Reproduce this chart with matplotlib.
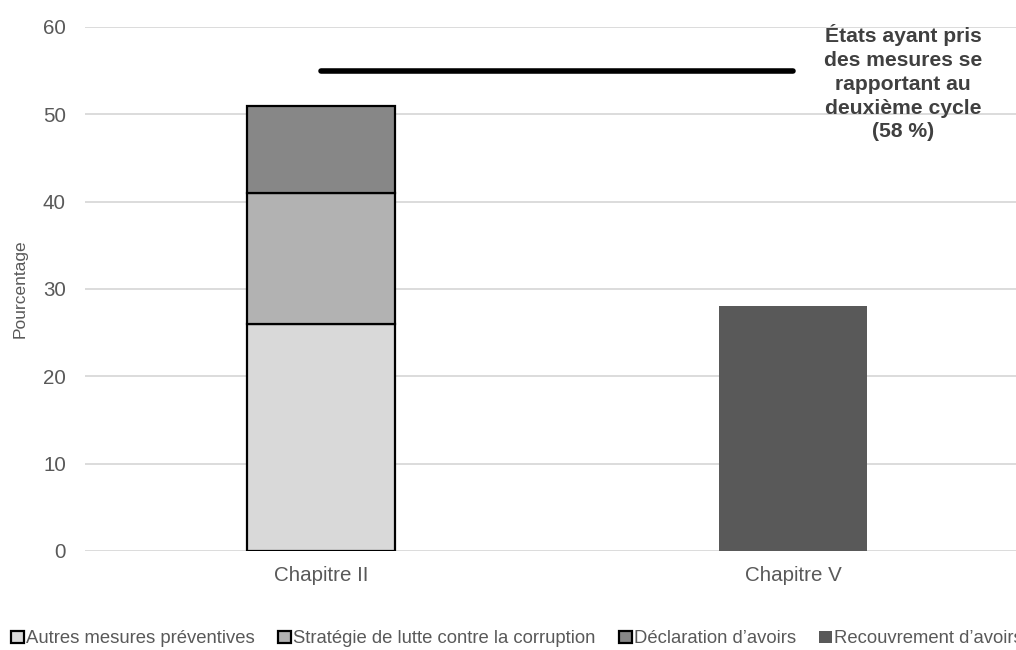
import matplotlib.pyplot as plt
import numpy as np

plt.rcParams['font.family'] = ['Liberation Sans', 'DejaVu Sans']

chapitres = ['Chapitre II', 'Chapitre V']
series = ['Autres mesures préventives',
          'Stratégie de lutte contre la corruption',
          'Déclaration d\u2019avoirs',
          'Recouvrement d\u2019avoirs']
autres = [26, 0]
strategie = [15, 0]
declaration = [10, 0]
recouvrement = [0, 28]
deuxieme_cycle = 55
note = 'États ayant pris\ndes mesures se\nrapportant au\ndeuxième cycle\n(58 %)'

couleurs = ['#D9D9D9', '#B2B2B2', '#878787', '#595959']
bords = ['black', 'black', 'black', 'none']

fig = plt.figure(figsize=(10.16, 6.5), dpi=100)
ax = fig.add_axes([85 / 1016, 99 / 650, 944 / 1016, 524 / 650])

x = np.arange(len(chapitres))
w = 0.314
bas = np.zeros(len(chapitres))
for nom, vals, c, b in zip(series, [autres, strategie, declaration, recouvrement], couleurs, bords):
    vals = np.array(vals, dtype=float)
    lw = 1.6 if b != 'none' else 0
    # hide zero-height segments so they don't leave an outline
    ax.bar(x[vals > 0], vals[vals > 0], w, bottom=bas[vals > 0], color=c,
           edgecolor=b, linewidth=lw, zorder=3)
    ax.bar([np.nan], [np.nan], w, color=c, edgecolor=b, linewidth=lw, label=nom)
    bas += vals

ax.plot([x[0], x[1]], [deuxieme_cycle, deuxieme_cycle], color='black', lw=4,
        solid_capstyle='round', zorder=4)
ax.text(1.233, 53.6, note, ha='center', va='center', multialignment='center',
        fontsize=15.2, fontweight='bold', color='#404040', linespacing=1.32, zorder=5)

ax.set_xlim(-0.5, 1.5)
ax.set_ylim(0, 60)
ax.set_yticks(range(0, 61, 10))
ax.set_xticks(x)
ax.set_xticklabels(chapitres)
ax.tick_params(axis='both', length=0, labelsize=14.8, colors='#595959')
ax.tick_params(axis='y', pad=13.7)
ax.tick_params(axis='x', pad=11)
ax.grid(axis='y', color='#D9D9D9', lw=1.3, zorder=0)
for s in ax.spines.values():
    s.set_visible(False)
ax.set_ylabel('Pourcentage', fontsize=12.5, color='#595959', labelpad=11)

fig.legend(loc='center left', bbox_to_anchor=(0.011, 0.017), ncol=4, frameon=False,
           fontsize=13.3, labelcolor='#595959', handlelength=0.7, handleheight=0.6,
           handletextpad=0.12, columnspacing=1.25, borderpad=0, borderaxespad=0)

fig.savefig('out.png', dpi=100)
